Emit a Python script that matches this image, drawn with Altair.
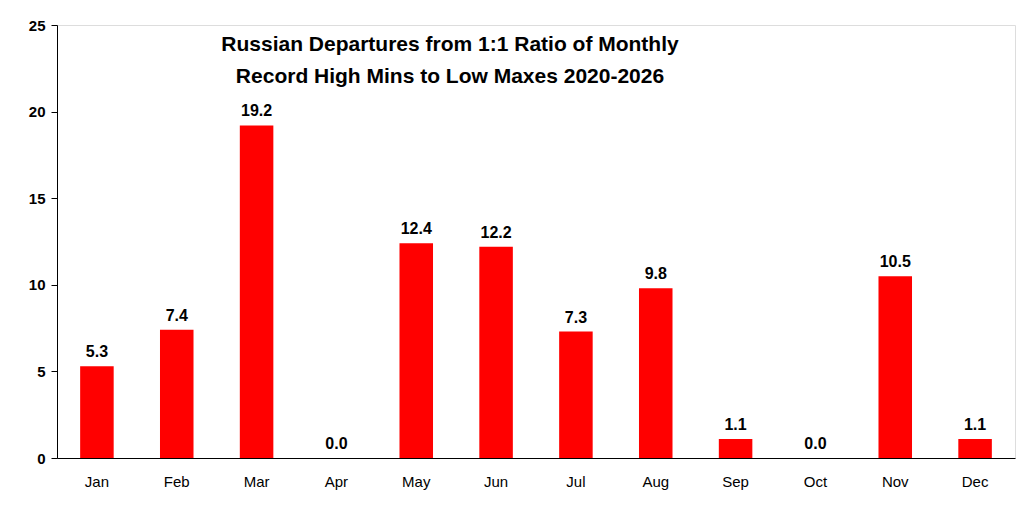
import altair as alt
import pandas as pd

months = ['Jan', 'Feb', 'Mar', 'Apr', 'May', 'Jun', 'Jul', 'Aug', 'Sep', 'Oct', 'Nov', 'Dec']
values = [5.3, 7.4, 19.2, 0.0, 12.4, 12.2, 7.3, 9.8, 1.1, 0.0, 10.5, 1.1]
title_lines = ['Russian Departures from 1:1 Ratio of Monthly', 'Record High Mins to Low Maxes 2020-2026']

df = pd.DataFrame({'month': months, 'value': values})
df['label'] = df['value'].map(lambda v: f'{v:.1f}')

x = alt.X('month:N', sort=months, title=None,
          scale=alt.Scale(paddingInner=0.58, paddingOuter=0.29),
          axis=alt.Axis(labelAngle=0, labelFontSize=15, labelColor='black', ticks=False,
                        domainColor='black', labelPadding=16))
y = alt.Y('value:Q', title=None, scale=alt.Scale(domain=[0, 25]),
          axis=alt.Axis(values=[0, 5, 10, 15, 20, 25], labelFontSize=15, labelFontWeight='bold',
                        labelColor='black', grid=False, domainColor='black', tickColor='black',
                        tickSize=6, labelPadding=6))

base = alt.Chart(df).encode(x=x, y=y)
bars = base.mark_bar(color='#ff0000')
labels = base.mark_text(dy=-14, fontSize=16, fontWeight='bold', color='black').encode(text='label')

layers = [bars, labels]
for i, line in enumerate(title_lines):
    layers.append(
        alt.Chart(pd.DataFrame({'t': [line]})).mark_text(
            fontSize=21, fontWeight='bold', color='black', align='center', baseline='middle'
        ).encode(text='t', x=alt.value(393), y=alt.value(20 + 32 * i))
    )

chart = alt.layer(*layers).properties(
    width=958, height=433,
    autosize=alt.AutoSizeParams(type='none'),
    padding={'left': 49, 'top': 17, 'right': 1, 'bottom': 45},
).configure_view(stroke=None).configure(font='Liberation Sans')

chart.save("out.html", embed_options={"renderer": "svg", "actions": False})
